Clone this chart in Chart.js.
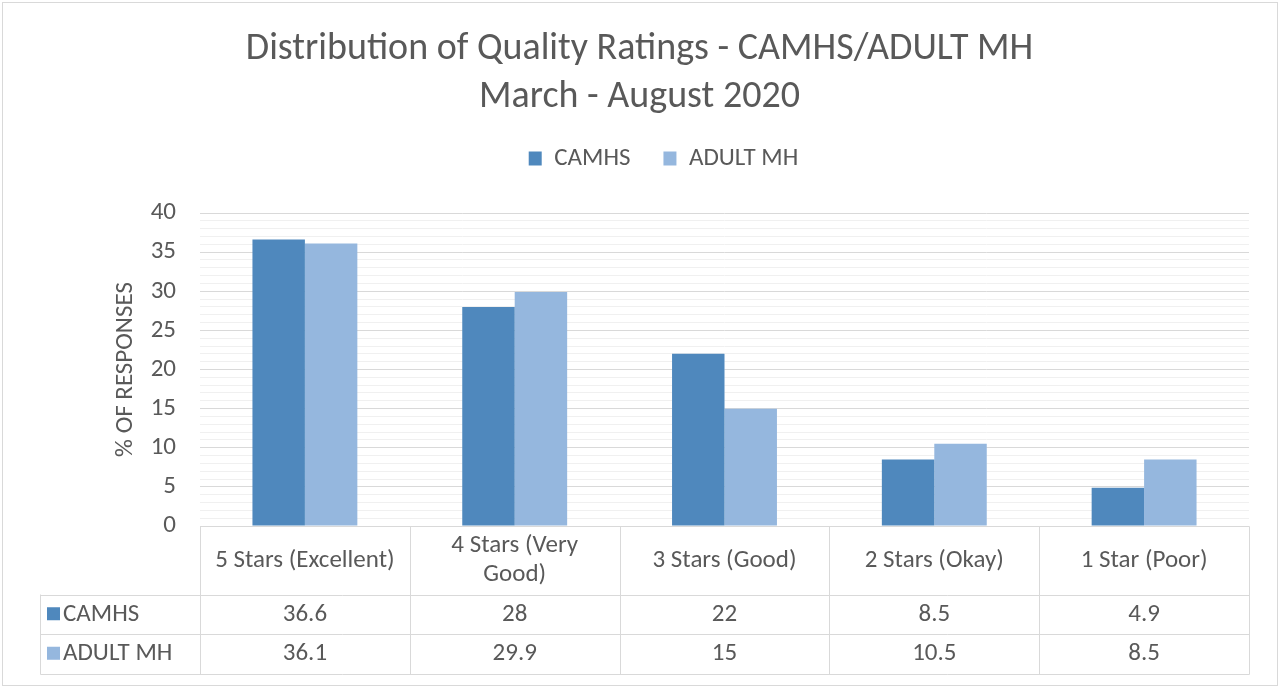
<!DOCTYPE html>
<html>
<head>
<meta charset="utf-8">
<script src="https://cdn.jsdelivr.net/npm/chart.js@4.4.1/dist/chart.umd.min.js"></script>
<style>
  html, body { margin: 0; padding: 0; background: #fff; }
  #wrap { width: 1280px; height: 688px; }
</style>
</head>
<body>
<div id="wrap"><canvas id="ratings" width="1280" height="688"></canvas></div>
<script>
const categories = [
    ['5 Stars (Excellent)'],
    ['4 Stars (Very', 'Good)'],
    ['3 Stars (Good)'],
    ['2 Stars (Okay)'],
    ['1 Star (Poor)'],
];
const camhs = [36.6, 28, 22, 8.5, 4.9];
const adultMh = [36.1, 29.9, 15, 10.5, 8.5];
const seriesNames = ['CAMHS', 'ADULT MH'];
const seriesColors = ['#4F88BD', '#95B7DE'];

const FONT = "Carlito, 'Open Sans', 'Noto Sans', sans-serif";
const TEXT = '#595959';
const LINE = '#D9D9D9';

// draws the outer frame and the Excel style data table under the plot
const tablePlugin = {
    id: 'dataTable',
    afterLayout(chart) {
        // Excel puts the legend a little right of the frame centre
        chart.legend.left += 24;
        chart.legend.right += 24;
    },
    beforeDraw(chart) {
        const ctx = chart.ctx;
        ctx.save();
        ctx.strokeStyle = LINE;
        ctx.lineWidth = 1;
        ctx.strokeRect(2.5, 2.5, chart.width - 5, chart.height - 5);
        ctx.restore();
    },
    afterDraw(chart) {
        const ctx = chart.ctx;
        const area = chart.chartArea;
        const x = chart.scales.x;
        const n = categories.length;
        const catW = (area.right - area.left) / n;
        const headerH = 68;
        const rowH = 39.5;
        const tableLeft = 40.5;
        const top = Math.round(area.bottom) + 0.5;
        const rows = [camhs, adultMh];

        ctx.save();
        ctx.strokeStyle = LINE;
        ctx.lineWidth = 1;
        const line = (x1, y1, x2, y2) => {
            ctx.beginPath();
            ctx.moveTo(x1, y1);
            ctx.lineTo(x2, y2);
            ctx.stroke();
        };
        const r = Math.round(area.right) + 0.5;
        line(area.left, top, r, top);
        for (let k = 0; k <= rows.length; k++) {
            const yy = Math.round(top + headerH + k * rowH) + 0.5;
            line(tableLeft, yy, r, yy);
        }
        const bottom = Math.round(top + headerH + rows.length * rowH) + 0.5;
        for (let i = 0; i <= n; i++) {
            const xx = Math.round(x.getPixelForValue(0) - catW / 2 + i * catW) + 0.5;
            line(xx, top, xx, bottom);
        }
        line(tableLeft, top + headerH, tableLeft, bottom);

        ctx.fillStyle = TEXT;
        ctx.font = '25px ' + FONT;
        ctx.textAlign = 'center';
        ctx.textBaseline = 'middle';
        categories.forEach((lines, i) => {
            const cx = x.getPixelForValue(i);
            const lh = 29;
            const y0 = top + headerH / 2 - (lines.length - 1) * lh / 2;
            lines.forEach((t, j) => ctx.fillText(t, cx, y0 + j * lh));
        });
        rows.forEach((vals, k) => {
            const cy = top + headerH + k * rowH + rowH / 2;
            vals.forEach((v, i) => ctx.fillText(String(v), x.getPixelForValue(i), cy));
            ctx.fillStyle = seriesColors[k];
            ctx.fillRect(47, cy - 7, 13, 13);
            ctx.fillStyle = TEXT;
            ctx.textAlign = 'left';
            ctx.fillText(seriesNames[k], 63, cy);
            ctx.textAlign = 'center';
        });
        ctx.restore();
    },
};

const ctx = document.getElementById('ratings').getContext('2d');
new Chart(ctx, {
    type: 'bar',
    data: {
        labels: categories.map((c) => c.join(' ')),
        datasets: [
            {
                label: seriesNames[0],
                data: camhs,
                backgroundColor: seriesColors[0],
                categoryPercentage: 0.5,
                barPercentage: 1.0,
            },
            {
                label: seriesNames[1],
                data: adultMh,
                backgroundColor: seriesColors[1],
                categoryPercentage: 0.5,
                barPercentage: 1.0,
            },
        ],
    },
    options: {
        responsive: false,
        animation: false,
        devicePixelRatio: 1,
        layout: {
            padding: { left: 30, right: 31, top: 10, bottom: 154 },
        },
        plugins: {
            title: {
                display: true,
                text: ['Distribution of Quality Ratings - CAMHS/ADULT MH', 'March - August 2020'],
                color: TEXT,
                font: { family: FONT, size: 38, weight: 300, lineHeight: 1.25 },
                padding: { top: 16, bottom: -8 },
            },
            // empty subtitle used as a spacer between legend and plot
            subtitle: {
                display: true,
                text: '',
                weight: 500,
                font: { size: 10, lineHeight: 1 },
                padding: { top: 0, bottom: 22 },
            },
            legend: {
                position: 'top',
                labels: {
                    color: TEXT,
                    font: { family: FONT, size: 25 },
                    boxWidth: 13,
                    boxHeight: 14,
                    padding: 33,
                },
            },
            tooltip: { enabled: false },
        },
        scales: {
            x: {
                grid: { display: false },
                border: { display: false },
                ticks: { display: false },
            },
            y: {
                min: 0,
                max: 40,
                afterFit: (scale) => { scale.width = 170; },
                border: { display: false },
                grid: {
                    color: (c) => (c.tick && c.tick.value % 5 === 0 ? LINE : '#F0F0F0'),
                    drawTicks: false,
                },
                ticks: {
                    stepSize: 1,
                    autoSkip: false,
                    color: TEXT,
                    padding: 24,
                    font: { family: FONT, size: 25 },
                    callback: (v) => (v % 5 === 0 ? v : ''),
                },
                title: {
                    display: true,
                    text: '% OF RESPONSES',
                    color: TEXT,
                    font: { family: FONT, size: 25 },
                    padding: { top: 81, bottom: 0 },
                },
            },
        },
    },
    plugins: [tablePlugin],
});
</script>
</body>
</html>
